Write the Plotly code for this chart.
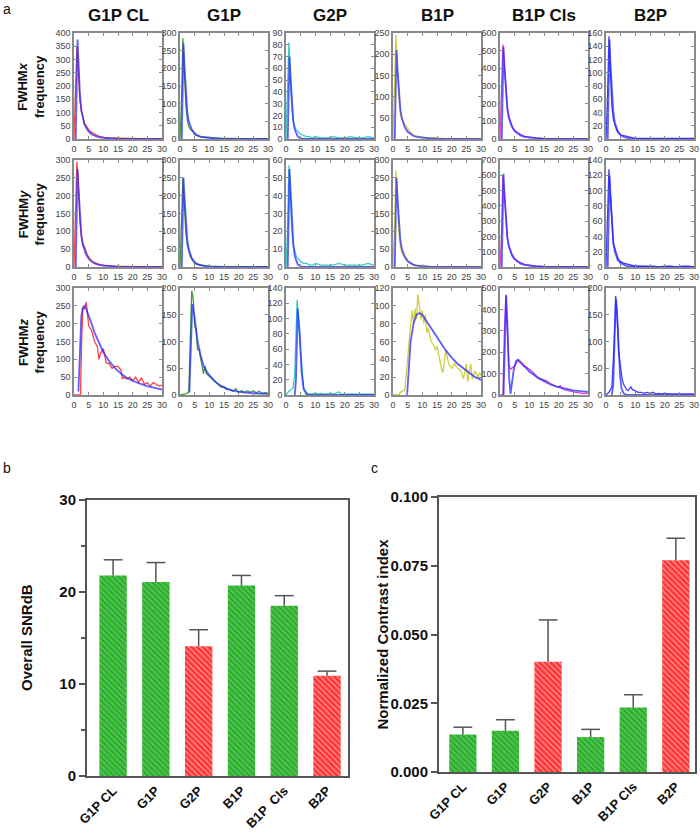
import plotly.graph_objects as go

W, H = 700, 835
FONT = "Liberation Sans, Arial, sans-serif"

# ---------------- data: panel a ----------------
columns = ["G1P CL", "G1P", "G2P", "B1P", "B1P Cls", "B2P"]
row_labels = ["FWHM<i>x</i>", "FWHM<i>y</i>", "FWHM<i>z</i>"]
ymax = [[400, 300, 90, 250, 600, 160],
        [300, 300, 60, 300, 700, 140],
        [300, 200, 140, 120, 500, 200]]
ydtick = [[50, 50, 10, 50, 100, 20],
          [50, 50, 10, 50, 100, 20],
          [50, 50, 20, 20, 100, 50]]
x_ticks = [0, 5, 10, 15, 20, 25, 30]

x_hist = [0, 0.5, 1, 1.5, 2, 2.5, 3, 3.5, 4, 4.5, 5, 6, 7, 8, 9, 10, 12, 14, 16, 18, 20, 22, 24, 26, 28, 30]
x_fit = [0.6, 0.8, 1, 1.2, 1.5, 2, 2.5, 3, 3.5, 4, 5, 6, 7, 8, 10, 12, 15, 20, 25, 30]

fwhmx_data = [
    [0, 200, 350, 260, 150, 105, 78, 60, 52, 42, 35, 25, 18, 13, 9, 6, 4, 3, 2, 2, 1, 1, 1, 1, 1, 1],
    [0, 100, 285, 180, 95, 55, 35, 28, 25, 20, 12, 8, 6, 5, 4, 4, 3, 2, 2, 1, 1, 1, 1, 1, 1, 1],
    [0, 40, 82, 50, 25, 15, 10, 8, 6, 5, 4, 3, 2, 2, 1, 2, 1, 1, 2, 1, 1, 2, 1, 1, 2, 1],
    [0, 110, 245, 150, 90, 60, 45, 40, 35, 28, 22, 15, 10, 7, 5, 4, 3, 2, 1, 1, 1, 1, 1, 1, 1, 1],
    [0, 250, 535, 420, 260, 180, 130, 100, 80, 62, 50, 35, 25, 18, 13, 10, 6, 4, 3, 2, 2, 1, 1, 1, 1, 1],
    [0, 60, 155, 100, 50, 30, 20, 15, 10, 8, 6, 5, 4, 2, 2, 1, 1, 1, 0, 1, 1, 0, 1, 0, 1, 1],
]
fwhmx_fit = [
    [0, 200, 340, 375, 300, 170, 110, 80, 58, 45, 28, 18, 12, 8, 4, 2.5, 1, 0.5, 0.2, 0.1],
    [0, 150, 250, 270, 210, 120, 75, 50, 36, 27, 16, 10, 7, 5, 3, 2, 1, 0.5, 0.2, 0.1],
    [0, 40, 65, 70, 55, 30, 15, 8, 4, 2, 0.5, 0.1, 0, 0, 0, 0, 0, 0, 0, 0],
    [0, 120, 195, 210, 170, 105, 70, 50, 37, 28, 17, 11, 7, 5, 3, 2, 1, 0.5, 0.2, 0.1],
    [0, 280, 480, 520, 410, 250, 170, 120, 90, 70, 45, 30, 20, 14, 8, 5, 2, 1, 0.5, 0.2],
    [0, 80, 140, 150, 115, 65, 40, 25, 17, 12, 6, 3, 2, 1, 0.5, 0.2, 0.1, 0, 0, 0],
]
fwhmy_data = [
    [0, 140, 295, 230, 130, 85, 60, 58, 45, 35, 28, 18, 12, 8, 6, 5, 3, 2, 2, 1, 1, 1, 1, 1, 1, 1],
    [0, 120, 250, 170, 95, 60, 40, 30, 22, 15, 10, 7, 5, 4, 3, 2, 1, 1, 1, 1, 1, 1, 1, 1, 1, 1],
    [0, 20, 57, 35, 20, 12, 8, 6, 5, 4, 3, 2, 2, 1, 1, 2, 1, 1, 1, 2, 1, 1, 1, 1, 2, 1],
    [0, 100, 270, 160, 100, 60, 40, 35, 30, 25, 18, 10, 7, 5, 4, 3, 2, 2, 1, 1, 1, 1, 1, 1, 1, 1],
    [0, 200, 600, 470, 300, 200, 140, 110, 90, 70, 55, 38, 27, 20, 14, 10, 6, 4, 3, 2, 2, 1, 1, 1, 1, 1],
    [0, 60, 128, 95, 60, 30, 25, 18, 12, 9, 7, 5, 4, 3, 2, 1, 1, 1, 1, 0, 1, 1, 0, 1, 1, 0],
]
fwhmy_fit = [
    [0, 150, 250, 275, 225, 135, 90, 65, 48, 37, 23, 15, 10, 7, 4, 2, 1, 0.5, 0.2, 0.1],
    [0, 140, 230, 250, 200, 120, 75, 50, 35, 25, 14, 8, 5, 3, 2, 1, 0.5, 0.2, 0.1, 0],
    [0, 25, 48, 55, 45, 25, 13, 6, 3, 1.5, 0.4, 0.1, 0, 0, 0, 0, 0, 0, 0, 0],
    [0, 140, 230, 250, 200, 120, 75, 52, 38, 28, 16, 10, 6, 4, 2, 1, 0.5, 0.2, 0.1, 0],
    [0, 300, 540, 610, 490, 290, 190, 135, 100, 78, 50, 33, 22, 15, 8, 5, 2, 1, 0.5, 0.2],
    [0, 70, 115, 120, 95, 55, 32, 20, 13, 9, 5, 3, 1.5, 1, 0.5, 0.2, 0.1, 0, 0, 0],
]

# FWHMz: each panel has its own bins
z_g1pcl_x = [0, 2.2, 2.6, 3, 3.5, 4.2, 5, 6, 7, 8, 8.5, 9, 10, 10.5, 11, 12, 13, 14, 15, 16, 16.5, 17, 18, 19, 20, 21, 22, 23, 24, 25, 26, 27, 28, 29, 30]
z_g1pcl_y = [0, 0, 150, 245, 240, 260, 195, 180, 150, 135, 100, 115, 130, 105, 90, 88, 75, 80, 80, 70, 45, 50, 45, 50, 40, 50, 35, 48, 30, 35, 25, 35, 30, 25, 28]
z_g1pcl_fx = [1.5, 2, 2.5, 3, 3.5, 4, 5, 6, 7, 8, 10, 12, 14, 16, 18, 20, 22, 25, 30]
z_g1pcl_fy = [10, 120, 220, 245, 250, 245, 225, 200, 175, 155, 120, 95, 75, 60, 48, 40, 33, 25, 15]

z_g1p_x = [0, 2, 3, 3.5, 4, 4.5, 5, 5.5, 6, 6.5, 7, 7.5, 8, 8.5, 9, 10, 11, 12, 13, 14, 15, 16, 17, 18, 19, 20, 21, 22, 23, 24, 25, 26, 27, 28, 29, 30]
z_g1p_y = [0, 2, 5, 100, 195, 180, 130, 120, 85, 85, 70, 60, 40, 55, 40, 35, 30, 25, 20, 15, 15, 10, 10, 7, 12, 5, 8, 5, 8, 5, 8, 4, 7, 3, 5, 3]
z_g1p_fx = [3.2, 3.6, 4.2, 5, 6, 7, 8, 9, 10, 12, 14, 16, 18, 20, 25, 30]
z_g1p_fy = [5, 80, 170, 145, 100, 75, 55, 45, 37, 25, 17, 12, 8, 6, 3, 2]

z_g2p_x = [0, 1, 2, 2.5, 3, 3.8, 4.5, 5.5, 6, 7, 8, 10, 11, 12, 13, 15, 16, 18, 19, 20, 25, 30]
z_g2p_y = [0, 5, 8, 10, 30, 125, 80, 30, 10, 3, 1, 2, 1, 2, 1, 2, 1, 4, 1, 1, 1, 1]
z_g2p_fx = [3, 3.4, 4, 4.7, 5.3, 6, 7, 8, 30]
z_g2p_fy = [0, 20, 113, 80, 30, 8, 1, 0, 0]

z_b1p_x = [0, 2, 2.5, 3.5, 4, 4.5, 5, 5.5, 6, 6.5, 7, 7.5, 8, 8.5, 9, 9.5, 10, 10.5, 11, 11.5, 12, 12.5, 13, 14, 14.5, 15, 15.5, 16, 16.5, 17, 18, 19, 20, 21, 22, 23, 24, 25, 25.5, 26, 26.5, 27, 28, 29, 29.5, 30]
z_b1p_y = [0, 0, 3, 5, 5, 20, 40, 60, 75, 95, 80, 97, 85, 113, 100, 85, 95, 80, 90, 70, 75, 65, 60, 55, 50, 55, 45, 40, 30, 25, 50, 35, 30, 35, 30, 28, 18, 35, 15, 25, 35, 18, 27, 20, 25, 22]
z_b1p_fx = [4.8, 5.3, 6, 7, 8, 9, 10, 11, 12, 14, 16, 18, 20, 22, 24, 26, 28, 30]
z_b1p_fy = [0, 30, 60, 80, 90, 92, 90, 85, 80, 70, 60, 50, 42, 35, 30, 25, 20, 17]

z_b1pcls_x = [0, 1, 1.5, 2, 2.5, 3, 3.5, 4, 5, 6, 7, 8, 9, 10, 11, 12, 13, 14, 15, 16, 17, 18, 19, 20, 20.5, 21, 22, 23, 24, 25, 26, 27, 28, 29, 30]
z_b1pcls_y = [0, 0, 300, 470, 300, 150, 120, 125, 135, 160, 150, 135, 130, 120, 110, 95, 80, 75, 70, 65, 55, 48, 40, 35, 45, 30, 25, 20, 18, 15, 12, 12, 8, 8, 8]
z_b1pcls_fx = [1.2, 1.6, 2.1, 2.6, 3.1, 3.6, 4, 4.7, 5.5, 6.2, 7, 8, 9, 10, 11.5, 13, 15, 17, 19, 21, 23, 25, 27.5, 30]
z_b1pcls_fy = [0, 250, 465, 300, 80, 5, 40, 120, 160, 165, 155, 140, 125, 110, 95, 80, 65, 50, 40, 33, 27, 22, 18, 15]

z_b2p_x = [0, 1, 2, 2.8, 3.3, 3.8, 4.3, 5, 5.5, 6, 6.5, 7, 7.5, 8.5, 9, 10, 11, 12, 13, 14, 15, 16, 17, 18, 19, 20, 22, 25, 28, 30]
z_b2p_y = [0, 5, 15, 100, 185, 150, 80, 50, 30, 20, 15, 10, 8, 15, 10, 8, 5, 5, 3, 5, 3, 5, 2, 3, 2, 3, 2, 2, 2, 2]
z_b2p_fx = [2, 2.5, 3, 3.4, 3.8, 4.3, 4.8, 5.3, 6, 7, 30]
z_b2p_fy = [0, 20, 120, 180, 150, 80, 35, 12, 3, 0, 0]

# ---------------- data: panels b, c ----------------
bar_labels = ["G1P CL", "G1P", "G2P", "B1P", "B1P  Cls", "B2P"]
bar_labels_c = ["G1P CL", "G1P", "G2P", "B1P", "B1P Cls", "B2P"]
snr_mean = [21.8, 21.1, 14.1, 20.7, 18.5, 10.9]
snr_upper = [23.5, 23.2, 15.9, 21.8, 19.6, 11.4]
contrast_mean = [0.0136, 0.0150, 0.0401, 0.0127, 0.0235, 0.0770]
contrast_upper = [0.0163, 0.0190, 0.0553, 0.0155, 0.0281, 0.0850]
bar_is_red = [False, False, True, False, False, True]

# ---------------- styling ----------------
data_colors = ["rgba(255,0,0,0.75)", "rgba(0,120,0,0.75)", "rgba(0,190,190,0.8)",
               "rgba(190,190,0,0.75)", "rgba(200,0,200,0.75)", "rgba(0,0,255,0.75)"]
fit_color = "rgba(40,40,255,0.75)"
GREEN = "#3ccc3c"
RED = "#ff3434"

col_x0 = [74, 180, 286, 393, 500, 606]
col_w = 88
row_y = [(33, 139), (160, 267), (288, 395)]


def px_x(p):
    return p / W


def px_y(p):
    return 1 - p / H


def xdom(p0, p1):
    return [px_x(p0), px_x(p1)]


def ydom(p0, p1):
    return [px_y(p1), px_y(p0)]


fig = go.Figure()
layout = {}
annotations = []

z_panels = [
    (z_g1pcl_x, z_g1pcl_y, z_g1pcl_fx, z_g1pcl_fy),
    (z_g1p_x, z_g1p_y, z_g1p_fx, z_g1p_fy),
    (z_g2p_x, z_g2p_y, z_g2p_fx, z_g2p_fy),
    (z_b1p_x, z_b1p_y, z_b1p_fx, z_b1p_fy),
    (z_b1pcls_x, z_b1pcls_y, z_b1pcls_fx, z_b1pcls_fy),
    (z_b2p_x, z_b2p_y, z_b2p_fx, z_b2p_fy),
]

k = 0
for r in range(3):
    for c in range(6):
        k += 1
        xa = "x" if k == 1 else f"x{k}"
        ya = "y" if k == 1 else f"y{k}"
        if r == 0:
            dx, dy, fx, fy = x_hist, fwhmx_data[c], x_fit, fwhmx_fit[c]
        elif r == 1:
            dx, dy, fx, fy = x_hist, fwhmy_data[c], x_fit, fwhmy_fit[c]
        else:
            dx, dy, fx, fy = z_panels[c]
        fig.add_trace(go.Scatter(x=dx, y=dy, mode="lines", xaxis=xa, yaxis=ya,
                                 line=dict(color=data_colors[c], width=1.3),
                                 showlegend=False, hoverinfo="skip"))
        fig.add_trace(go.Scatter(x=fx, y=fy, mode="lines", xaxis=xa, yaxis=ya,
                                 line=dict(color=fit_color, width=1.8),
                                 showlegend=False, hoverinfo="skip"))
        common = dict(showline=True, linecolor="#8a8a8a", linewidth=1.5, mirror="ticks",
                      ticks="inside", ticklen=3, tickwidth=1, tickcolor="#8a8a8a",
                      showgrid=False, zeroline=False, automargin=False,
                      tickfont=dict(family=FONT, size=9, color="#444"))
        layout["xaxis" if k == 1 else f"xaxis{k}"] = dict(
            domain=xdom(col_x0[c], col_x0[c] + col_w), anchor=ya,
            range=[0, 30], tickvals=x_ticks, **common)
        layout["yaxis" if k == 1 else f"yaxis{k}"] = dict(
            domain=ydom(*row_y[r]), anchor=xa,
            range=[0, ymax[r][c]], dtick=ydtick[r][c], tick0=0, **common)

# column titles
for c in range(6):
    annotations.append(dict(text=f"<b>{columns[c]}</b>", xref="paper", yref="paper",
                            x=px_x(col_x0[c] + col_w / 2), y=px_y(15),
                            showarrow=False, font=dict(family=FONT, size=17, color="#111"),
                            xanchor="center", yanchor="middle"))
# row labels
for r in range(3):
    annotations.append(dict(text=f"<b>{row_labels[r]}<br>frequency</b>", xref="paper", yref="paper",
                            x=px_x(31), y=px_y((row_y[r][0] + row_y[r][1]) / 2),
                            textangle=-90, showarrow=False,
                            font=dict(family=FONT, size=13, color="#111"),
                            xanchor="center", yanchor="middle"))

# panel letters
for letter, px, py in [("a", 2, 0), ("b", 2, 459), ("c", 370, 459)]:
    annotations.append(dict(text=letter, xref="paper", yref="paper", x=px_x(px), y=px_y(py),
                            showarrow=False, font=dict(family=FONT, size=14, color="#111"),
                            xanchor="left", yanchor="top", borderpad=0))


# ---------------- bar charts ----------------
def add_bars(idx, means, uppers, labels, xr, xd, yd, yr, ytickvals, yticktext, minor, title, title_x):
    xa, ya = f"x{idx}", f"y{idx}"
    colors = [RED if red else GREEN for red in bar_is_red]
    xs = list(range(len(means)))
    fig.add_trace(go.Bar(x=xs, y=means, width=0.64, xaxis=xa, yaxis=ya,
                         marker=dict(color=colors, line=dict(width=0),
                                     pattern=dict(shape="\\", fgcolor="white", bgcolor=colors,
                                                  size=4, solidity=0.3)),
                         showlegend=False, hoverinfo="skip"))
    ex, ey = [], []
    for i, (m, u) in enumerate(zip(means, uppers)):
        ex += [i, i, None, i - 0.22, i + 0.22, None]
        ey += [m, u, None, u, u, None]
    fig.add_trace(go.Scatter(x=ex, y=ey, mode="lines", xaxis=xa, yaxis=ya,
                             line=dict(color="#555", width=1.5),
                             showlegend=False, hoverinfo="skip"))
    layout[f"xaxis{idx}"] = dict(domain=xd, anchor=ya, range=xr, tickvals=xs, ticktext=labels,
                                 tickangle=-45, showline=True, linecolor="#555", linewidth=2,
                                 mirror=True, ticks="", showgrid=False, zeroline=False,
                                 automargin=False,
                                 tickfont=dict(family=FONT, size=13, color="#111", weight="bold"))
    yax = dict(domain=yd, anchor=xa, range=yr, tickvals=ytickvals, ticktext=yticktext,
               showline=True, linecolor="#555", linewidth=2, mirror=True,
               ticks="outside", ticklen=6, tickwidth=2, tickcolor="#555",
               showgrid=False, zeroline=False, automargin=False,
               tickfont=dict(family=FONT, size=15, color="#111", weight="bold"))
    if minor:
        yax["minor"] = dict(tickvals=minor, ticks="outside", ticklen=4, tickwidth=1.5, tickcolor="#555")
    layout[f"yaxis{idx}"] = yax
    annotations.append(dict(text=f"<b>{title}</b>", xref="paper", yref="paper",
                            x=px_x(title_x), y=(yd[0] + yd[1]) / 2, textangle=-90,
                            showarrow=False, font=dict(family=FONT, size=15, color="#111"),
                            xanchor="center", yanchor="middle"))


add_bars(19, snr_mean, snr_upper, bar_labels, [-0.61, 5.49],
         xdom(87, 348), ydom(500, 776), [0, 30], [0, 10, 20, 30], ["0", "10", "20", "30"],
         [5, 15, 25], "Overall SNRdB", 26)
add_bars(20, contrast_mean, contrast_upper, bar_labels_c, [-0.56, 5.45],
         xdom(439, 695), ydom(497, 772), [0, 0.1], [0, 0.025, 0.05, 0.075, 0.1],
         ["0.000", "0.025", "0.050", "0.075", "0.100"], None, "Normalized Contrast index", 382)

fig.update_layout(width=W, height=H, margin=dict(l=0, r=0, t=0, b=0, autoexpand=False),
                  paper_bgcolor="white", plot_bgcolor="white",
                  font=dict(family=FONT), annotations=annotations, **layout)
fig.write_html("out.html", config={"displayModeBar": False},
               post_script="document.body.style.margin='0';document.body.style.overflow='hidden';")
